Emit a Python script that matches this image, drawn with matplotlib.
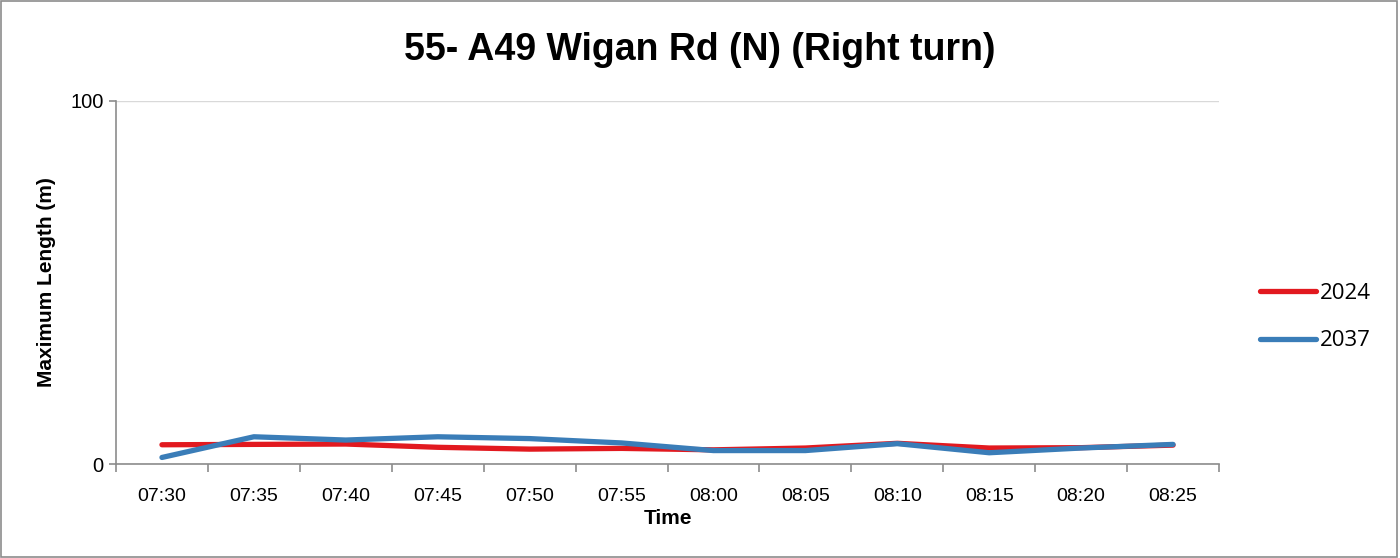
import matplotlib.pyplot as plt
import numpy as np

# queue data per 5-minute interval
times = ['07:30', '07:35', '07:40', '07:45', '07:50', '07:55',
         '08:00', '08:05', '08:10', '08:15', '08:20', '08:25']
len_2024 = [5.3, 5.4, 5.5, 4.6, 4.1, 4.3, 3.9, 4.4, 5.7, 4.4, 4.5, 5.2]
len_2037 = [1.8, 7.5, 6.6, 7.5, 7.0, 5.8, 3.7, 3.7, 5.6, 3.1, 4.4, 5.4]

plt.rcParams['font.family'] = ['Liberation Sans', 'DejaVu Sans']

fig = plt.figure(figsize=(14, 5.58), dpi=100)
ax = fig.add_axes([116/1400, 1 - 464/558, (1219-116)/1400, (464-101)/558])

# outer frame
fig.patches.append(plt.Rectangle((0.001, 0.002), 0.997, 0.996, transform=fig.transFigure,
                                 fill=False, edgecolor='#8c8c8c', linewidth=1.2))

x = np.arange(len(times))
ax.plot(x, len_2024, color='#E2191F', linewidth=3.8, label='2024', solid_capstyle='round')
ax.plot(x, len_2037, color='#3A7DB8', linewidth=3.8, label='2037', solid_capstyle='round')

ax.set_xlim(-0.5, len(times) - 0.5)
ax.set_ylim(0, 100)
ax.set_yticks([0, 100])
ax.yaxis.grid(True, color='#d9d9d9', linewidth=1)
ax.set_axisbelow(True)

ax.set_xticks(np.arange(-0.5, len(times), 1))
ax.set_xticklabels([])
ax.set_xticks(x, minor=True)
ax.set_xticklabels(times, minor=True)
ax.tick_params(axis='x', which='major', length=6, color='#8c8c8c', width=1.2)
ax.tick_params(axis='x', which='minor', length=0, pad=17, labelsize=14)
ax.tick_params(axis='y', length=5, color='#8c8c8c', width=1.2, labelsize=14.5, pad=4)

for s in ['top', 'right']:
    ax.spines[s].set_visible(False)
for s in ['left', 'bottom']:
    ax.spines[s].set_color('#8c8c8c')
    ax.spines[s].set_linewidth(1.2)

ax.set_xlabel('Time', fontsize=15, fontweight='bold', va='center')
ax.xaxis.set_label_coords(0.5, (464 - 518) / 363)
ax.set_ylabel('Maximum Length (m)', fontsize=15, fontweight='bold', va='center')
ax.yaxis.set_label_coords((47 - 116) / 1103, 0.5)
fig.text(0.5, 1 - 50 / 558, '55- A49 Wigan Rd (N) (Right turn)', ha='center', va='center',
         fontsize=27, fontweight='bold')

ax.legend(loc='center left', bbox_to_anchor=(1.019, (464 - 317) / 363), frameon=False,
          prop={'family': 'Open Sans', 'size': 16}, handlelength=2.5,
          labelspacing=1.2, handletextpad=0.2)

fig.savefig('out.png', dpi=100)
